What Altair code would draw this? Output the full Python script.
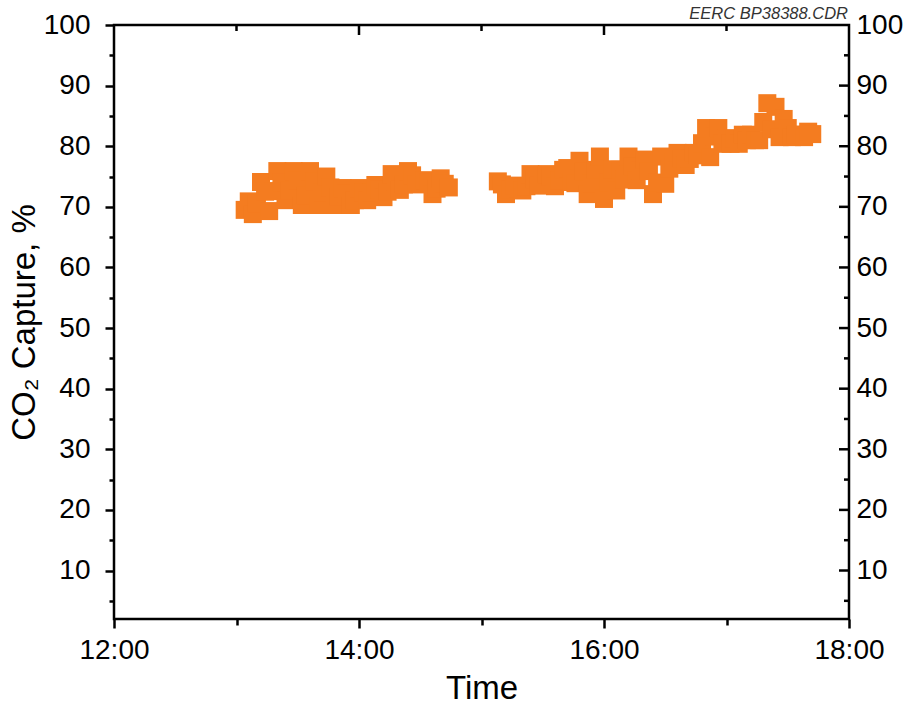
import altair as alt
import pandas as pd

ORANGE = "#F47C20"
FONT = "Liberation Sans"
ANNOT = "EERC BP38388.CDR"

# ---- data ----
seg_a_times = [
    "13:04", "13:06", "13:08", "13:10", "13:12", "13:14", "13:16", "13:18", "13:20", "13:22",
    "13:24", "13:26", "13:28", "13:30", "13:32", "13:34", "13:36", "13:38", "13:40", "13:42",
    "13:44", "13:46", "13:48", "13:50", "13:52", "13:54", "13:56", "13:58", "14:00", "14:02",
    "14:04", "14:06", "14:08", "14:10", "14:12", "14:14", "14:16", "14:18", "14:20", "14:22",
    "14:24", "14:26", "14:28", "14:30", "14:32", "14:34", "14:36", "14:38", "14:40", "14:42",
    "14:44",
]
seg_a_values = [
    69.5, 70.9, 68.8, 70.6, 74.1, 72.5, 69.3, 72.6, 75.9, 74.0,
    71.1, 72.7, 75.9, 74.3, 70.3, 71.9, 75.9, 74.2, 70.3, 72.4,
    75.0, 73.2, 70.3, 71.7, 73.1, 72.2, 70.3, 71.1, 73.1, 72.4,
    71.1, 72.3, 73.6, 72.9, 71.6, 72.5, 75.4, 74.1, 72.8, 73.7,
    75.9, 75.2, 73.7, 74.1, 74.4, 74.0, 72.1, 73.0, 74.7, 73.8,
    73.2,
]
seg_b_times = [
    "15:08", "15:10", "15:12", "15:14", "15:16", "15:18", "15:20", "15:22", "15:24", "15:26",
    "15:28", "15:30", "15:32", "15:34", "15:36", "15:38", "15:40", "15:42", "15:44", "15:46",
    "15:48", "15:50", "15:52", "15:54", "15:56", "15:58", "16:00", "16:02", "16:04", "16:06",
    "16:08", "16:10", "16:12", "16:14", "16:16", "16:18", "16:20", "16:22", "16:24", "16:26",
    "16:28", "16:30", "16:32", "16:34", "16:36", "16:38", "16:40", "16:42", "16:44", "16:46",
    "16:48", "16:50", "16:52", "16:54", "16:56", "16:58", "17:00", "17:02", "17:04", "17:06",
    "17:08", "17:10", "17:12", "17:14", "17:16", "17:18", "17:20", "17:22", "17:24", "17:26",
    "17:28", "17:30", "17:32", "17:34", "17:36", "17:38", "17:40", "17:42",
]
seg_b_values = [
    74.2, 73.7, 72.1, 72.8, 73.5, 73.0, 72.7, 73.4, 75.4, 74.5,
    73.5, 74.1, 75.4, 75.0, 73.4, 74.3, 76.1, 76.4, 74.1, 73.9,
    77.6, 75.8, 72.1, 73.9, 76.1, 78.3, 71.3, 74.0, 76.2, 72.7,
    76.1, 74.5, 78.3, 76.6, 74.4, 76.0, 77.8, 75.9, 72.1, 74.0,
    78.3, 73.8, 76.3, 77.4, 78.9, 77.9, 76.9, 77.9, 78.9, 78.5,
    80.5, 83.0, 78.2, 81.6, 83.0, 80.4, 81.3, 80.4, 81.3, 80.4,
    81.9, 81.0, 81.9, 81.0, 81.0, 84.0, 87.1, 82.8, 86.5, 81.5,
    84.5, 83.0, 81.5, 81.9, 81.9, 81.5, 82.4, 82.0,
]

x_major_labels = ["12:00", "14:00", "16:00", "18:00"]
x_minor_labels = ["13:00", "15:00", "17:00"]
y_major = [10, 20, 30, 40, 50, 60, 70, 80, 90, 100]
y_minor = [5, 15, 25, 35, 45, 55, 65, 75, 85, 95]


def to_min(s):
    h, m = s.split(":")
    return (int(h) - 12) * 60 + int(m)


df = pd.DataFrame({
    "t": [to_min(s) for s in seg_a_times + seg_b_times],
    "v": seg_a_values + seg_b_values,
})

x_major = [to_min(s) for s in x_major_labels]
x_minor = [to_min(s) for s in x_minor_labels]

W, H = 735, 594

x_scale = alt.Scale(domain=[0, 360], nice=False, zero=False)
y_scale = alt.Scale(domain=[2, 100], nice=False, zero=False)

common_axis = dict(domain=False, grid=False, tickColor="black", tickWidth=2.5,
                   labelFont=FONT, titleFont=FONT, labelColor="black",
                   titleColor="black", titleFontWeight="normal",
                   labelFlush=False, labelOverlap=False)

points = alt.Chart(df).mark_square(size=324, color=ORANGE, opacity=1, filled=True).encode(
    x=alt.X("t:Q", scale=x_scale, axis=alt.Axis(
        orient="bottom", values=x_major, tickSize=9, labelFontSize=28, labelPadding=8,
        labelExpr="(12 + datum.value / 60) + ':00'",
        title="Time", titleFontSize=33, titlePadding=8, **common_axis)),
    y=alt.Y("v:Q", scale=y_scale, axis=alt.Axis(
        orient="left", values=y_major, tickSize=9, labelFontSize=28, labelPadding=15,
        title="CO₂ Capture, %", titleFontSize=33, titlePadding=2, **common_axis)),
)

top_minor = alt.Chart(pd.DataFrame({"tm": x_minor})).mark_rule(color="black", strokeWidth=2.5).encode(
    x=alt.X("tm:Q", scale=x_scale, axis=alt.Axis(
        orient="bottom", values=x_minor, tickSize=6, labels=False, title=None, **common_axis)),
    y=alt.value(0), y2=alt.value(6),
)

top_major = alt.Chart(pd.DataFrame({"tM": x_major[1:-1]})).mark_rule(color="black", strokeWidth=2.5).encode(
    x=alt.X("tM:Q", scale=x_scale, axis=None),
    y=alt.value(0), y2=alt.value(10),
)

right_major = alt.Chart(pd.DataFrame({"vM": y_major[:-1]})).mark_rule(color="black", strokeWidth=2.5).encode(
    y=alt.Y("vM:Q", scale=y_scale, axis=alt.Axis(
        orient="right", values=y_major, ticks=False, labelFontSize=28, labelPadding=7,
        title=None, **common_axis)),
    x=alt.value(W - 10), x2=alt.value(W),
)

right_minor = alt.Chart(pd.DataFrame({"vm": y_minor})).mark_rule(color="black", strokeWidth=2.5).encode(
    y=alt.Y("vm:Q", scale=y_scale, axis=alt.Axis(
        orient="left", values=y_minor, tickSize=5, labels=False, title=None, **common_axis)),
    x=alt.value(W - 5), x2=alt.value(W),
)

annot = alt.Chart(pd.DataFrame({"label": [ANNOT]})).mark_text(
    align="right", baseline="alphabetic", fontStyle="italic", fontSize=16.5,
    font=FONT, color="#333333",
).encode(x=alt.value(W - 1), y=alt.value(-6), text="label:N")

chart = alt.layer(points, top_minor, top_major, right_major, right_minor, annot).resolve_axis(
    x="independent", y="independent"
).properties(
    width=W, height=H,
    padding={"left": 114, "top": 25, "right": 56, "bottom": 88},
    autosize=alt.AutoSizeParams(type="none"),
).configure_view(stroke="black", strokeWidth=2.5)

chart.save("out.html", embed_options={"renderer": "svg", "actions": False})
